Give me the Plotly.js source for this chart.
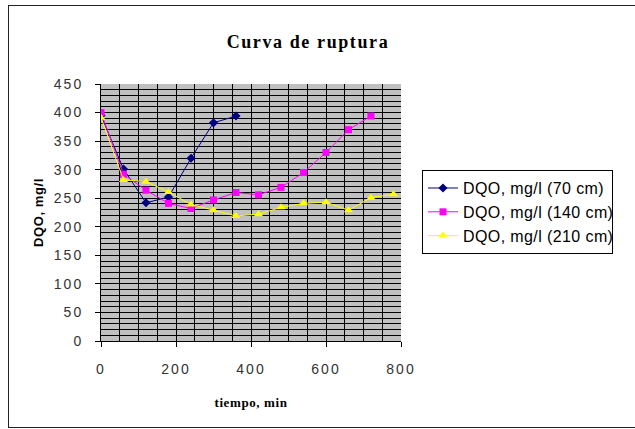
<!DOCTYPE html>
<html>
<head>
<meta charset="utf-8">
<script src="https://cdn.plot.ly/plotly-3.0.1.min.js"></script>
<style>
  html, body { margin: 0; padding: 0; background: #fff; overflow: hidden; }
  #wrap { position: relative; width: 635px; height: 429px; overflow: hidden; }
  #chart { position: absolute; left: 0; top: 0; width: 635px; height: 429px; }
  /* chart-area frame, running off the right edge */
  #frame { position: absolute; left: 8px; top: 5px; width: 700px; height: 421px;
           border: 1px solid #222; pointer-events: none; }
  /* wide, Excel-style lettering */
  #chart .xtick text, #chart .ytick text { letter-spacing: 2px; }
  #chart .legendtext { letter-spacing: 0.4px; }
  #chart .gtitle { letter-spacing: 1.6px; }
  #chart .xtitle, #chart .ytitle { letter-spacing: 0.6px; }
</style>
</head>
<body>
<div id="wrap">
  <div id="chart"></div>
  <div id="frame"></div>
</div>
<script>
// Breakthrough curve: COD (DQO) vs time for three bed depths
const tiempo70 = [0, 60, 120, 180, 240, 300, 360];
const dqo70 = [395, 301, 242, 252, 320, 382, 394];

const tiempo140 = [0, 60, 120, 180, 240, 300, 360, 420, 480, 540, 600, 660, 720];
const dqo140 = [400, 292, 264, 241, 232, 247, 260, 256, 269, 295, 330, 370, 394];

const tiempo210 = [0, 60, 120, 180, 240, 300, 360, 420, 480, 540, 600, 660, 720, 780];
const dqo210 = [391, 282, 279, 261, 239, 229, 219, 222, 234, 241, 243, 229, 251, 257];

const seriesNames = ['DQO, mg/l (70 cm)', 'DQO, mg/l (140 cm)', 'DQO, mg/l (210 cm)'];

const traces = [
  {
    x: tiempo70, y: dqo70, name: seriesNames[0], mode: 'lines+markers',
    line: { color: '#000080', width: 1 },
    marker: { symbol: 'diamond', size: 7, color: '#000080' }
  },
  {
    x: tiempo140, y: dqo140, name: seriesNames[1], mode: 'lines+markers',
    line: { color: '#FF00FF', width: 1 },
    marker: { symbol: 'square', size: 7, color: '#FF00FF' }
  },
  {
    x: tiempo210, y: dqo210, name: seriesNames[2], mode: 'lines+markers',
    line: { color: '#FFFF00', width: 1 },
    marker: { symbol: 'triangle-up', size: 8, color: '#FFFF00' }
  }
];

const tickFont = { family: 'Liberation Sans, Arial, sans-serif', size: 14, color: '#333' };

const layout = {
  width: 635, height: 429,
  margin: { l: 101, r: 234, t: 84, b: 88, pad: 0 },
  paper_bgcolor: '#ffffff',
  plot_bgcolor: '#c0c0c0',
  showlegend: true,
  title: {
    text: '<b>Curva de ruptura</b>',
    font: { family: 'Liberation Serif, Times New Roman, serif', size: 18, color: '#000' },
    x: 0.485, xref: 'container', xanchor: 'center',
    y: 0.903, yref: 'container', yanchor: 'middle'
  },
  xaxis: {
    range: [0, 800], dtick: 200, tick0: 0,
    showline: true, linecolor: '#000', linewidth: 1,
    ticks: 'outside', ticklen: 5, tickcolor: '#000',
    ticklabelstandoff: 10,
    showgrid: true, gridcolor: '#000', gridwidth: 1,
    minor: { dtick: 50, showgrid: true, gridcolor: '#000', gridwidth: 1 },
    zeroline: false, mirror: false,
    tickfont: tickFont,
    title: {
      text: '<b>tiempo, min</b>',
      font: { family: 'Liberation Serif, Times New Roman, serif', size: 13, color: '#000' },
      standoff: 22
    }
  },
  yaxis: {
    range: [0, 450], dtick: 50, tick0: 0,
    showline: true, linecolor: '#000', linewidth: 1,
    ticks: 'outside', ticklen: 5, tickcolor: '#000',
    ticklabelstandoff: 9,
    showgrid: true, gridcolor: '#000', gridwidth: 1,
    minor: { dtick: 10, showgrid: true, gridcolor: '#000', gridwidth: 1 },
    zeroline: false,
    tickfont: tickFont,
    title: {
      text: '<b>DQO, mg/l</b>',
      font: { family: 'Liberation Sans, Arial, sans-serif', size: 13, color: '#000' },
      standoff: 13
    }
  },
  legend: {
    x: 1.07, xanchor: 'left', y: 0.665, yanchor: 'top',
    bgcolor: '#ffffff', bordercolor: '#000', borderwidth: 1,
    font: { family: 'Liberation Sans, Arial, sans-serif', size: 16, color: '#000' },
    itemwidth: 30, tracegroupgap: 0
  }
};

Plotly.newPlot('chart', traces, layout, { displayModeBar: false, staticPlot: true });
</script>
</body>
</html>
